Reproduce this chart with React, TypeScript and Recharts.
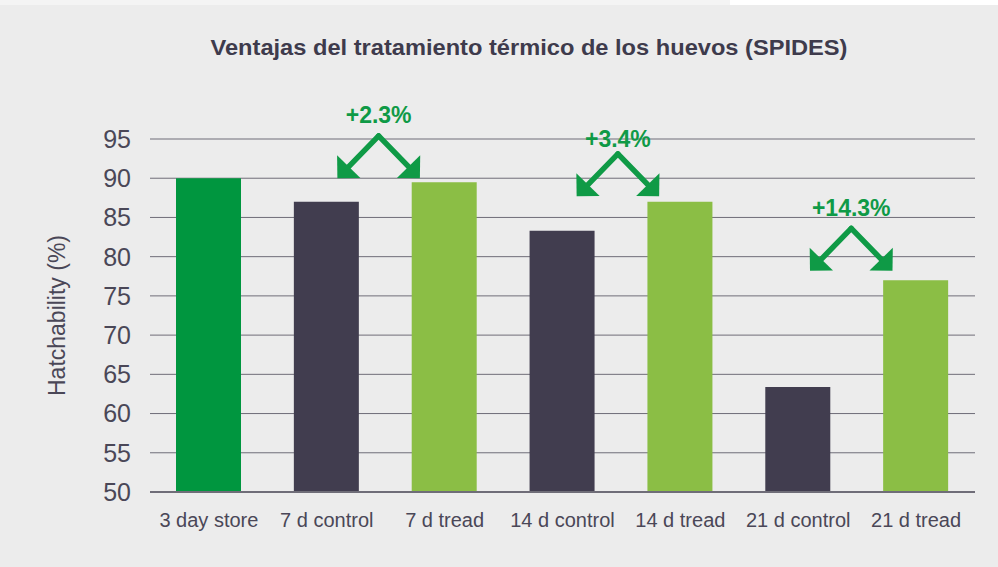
import React from 'react';
import { BarChart, Bar, XAxis, YAxis, CartesianGrid, Cell, ReferenceLine, ReferenceDot } from 'recharts';

const categories = ['3 day store', '7 d control', '7 d tread', '14 d control', '14 d tread', '21 d control', '21 d tread'];
const hatchability = [90, 87, 89.5, 83.3, 87, 63.4, 77];
const groups = ['store', 'control', 'tread', 'control', 'tread', 'control', 'tread'];
const yTicks = [50, 55, 60, 65, 70, 75, 80, 85, 90, 95];

const gainLabels = ['+2.3%', '+3.4%', '+14.3%'];
const gainApexX = [1.94, 3.97, 5.95];
const gainHeadY = [90, 87.7, 78.2];
const gainLabelY = [98, 95, 86.2];

const groupColors: Record<string, string> = {
  store: '#00963f',
  control: '#413d4f',
  tread: '#8bbe45',
};

const data = categories.map((c, i) => ({ name: c, value: hatchability[i], group: groups[i], pos: i + 0.5 }));

const ARROW = '#0f9a46';
const TEXT = '#4a4757';
const FONT = '"Liberation Sans", Arial, sans-serif';

const ArrowShape = (props: any) => {
  const { x1, y1, x2, y2 } = props;
  const dx = x2 - x1;
  const dy = y2 - y1;
  const len = Math.hypot(dx, dy) || 1;
  const ux = dx / len;
  const uy = dy / len;
  const vx = -ux;
  const vy = -uy;
  const c = Math.SQRT1_2;
  const L = 23;
  const b1x = x2 + L * (vx * c - vy * c);
  const b1y = y2 + L * (vx * c + vy * c);
  const b2x = x2 + L * (vx * c + vy * c);
  const b2y = y2 + L * (-vx * c + vy * c);
  const ex = x2 - ux * 10;
  const ey = y2 - uy * 10;
  return (
    <g>
      <line x1={x1} y1={y1} x2={ex} y2={ey} stroke={ARROW} strokeWidth={5.5} strokeLinecap="round" />
      <polygon points={`${x2},${y2} ${b1x},${b1y} ${b2x},${b2y}`} fill={ARROW} />
    </g>
  );
};

const makeLabel = (text: string) => (props: any) => (
  <text
    x={props.cx}
    y={props.cy}
    textAnchor="middle"
    dominantBaseline="central"
    fill={ARROW}
    fontFamily={FONT}
    fontWeight="bold"
    fontSize={23}
  >
    {text}
  </text>
);

export default function App() {
  return (
    <div style={{ position: 'absolute', left: 0, top: 0, width: 998, height: 567, background: '#ececec', overflow: 'hidden' }}>
      <div style={{ position: 'absolute', left: 0, top: 0, width: 730, height: 5, background: '#f4f4f4' }} />
      <div style={{ position: 'absolute', left: 730, top: 0, width: 268, height: 5, background: '#ffffff' }} />
      <BarChart
        width={998}
        height={567}
        data={data}
        margin={{ top: 139, right: 23, bottom: 45, left: 0 }}
        style={{ position: 'absolute', left: 0, top: 0 }}
      >
        <text
          x={529}
          y={47}
          textAnchor="middle"
          dominantBaseline="central"
          fill="#3e3b4c"
          fontFamily={FONT}
          fontWeight="bold"
          fontSize={22}
          textLength={637}
          lengthAdjust="spacingAndGlyphs"
        >
          Ventajas del tratamiento térmico de los huevos (SPIDES)
        </text>
        <CartesianGrid vertical={false} stroke="#6f6d78" strokeWidth={1} />
        <XAxis
          xAxisId="cat"
          dataKey="name"
          type="category"
          axisLine={{ stroke: '#6f6d78', strokeWidth: 2 }}
          tickLine={false}
          tickSize={0}
          tickMargin={21}
          tick={{ fill: TEXT, fontSize: 20, fontFamily: FONT }}
          interval={0}
        />
        <XAxis xAxisId="num" dataKey="pos" type="number" domain={[0, 7]} allowDataOverflow hide />
        <YAxis
          domain={[50, 95]}
          ticks={yTicks}
          width={150}
          axisLine={false}
          tickLine={false}
          tickSize={0}
          tickMargin={19}
          interval={0}
          tick={{ fill: TEXT, fontSize: 25, fontFamily: FONT }}
          label={{
            value: 'Hatchability (%)',
            angle: -90,
            position: 'insideLeft',
            offset: 57,
            style: { textAnchor: 'middle', fill: TEXT, fontSize: 23, fontFamily: FONT },
          }}
        />
        <Bar dataKey="value" xAxisId="cat" barSize={65} isAnimationActive={false}>
          {data.map((d, i) => (
            <Cell key={i} fill={groupColors[d.group]} />
          ))}
        </Bar>
        {gainLabels.map((lab, i) => (
          <ReferenceLine
            key={`l${i}`}
            xAxisId="num"
            ifOverflow="visible"
            segment={[
              { x: gainApexX[i], y: gainHeadY[i] + 5.4 },
              { x: gainApexX[i] - 0.35, y: gainHeadY[i] },
            ]}
            shape={ArrowShape}
          />
        ))}
        {gainLabels.map((lab, i) => (
          <ReferenceLine
            key={`r${i}`}
            xAxisId="num"
            ifOverflow="visible"
            segment={[
              { x: gainApexX[i], y: gainHeadY[i] + 5.4 },
              { x: gainApexX[i] + 0.35, y: gainHeadY[i] },
            ]}
            shape={ArrowShape}
          />
        ))}
        {gainLabels.map((lab, i) => (
          <ReferenceDot
            key={`t${i}`}
            xAxisId="num"
            ifOverflow="visible"
            x={gainApexX[i]}
            y={gainLabelY[i]}
            r={0}
            shape={makeLabel(lab)}
          />
        ))}
      </BarChart>
    </div>
  );
}
